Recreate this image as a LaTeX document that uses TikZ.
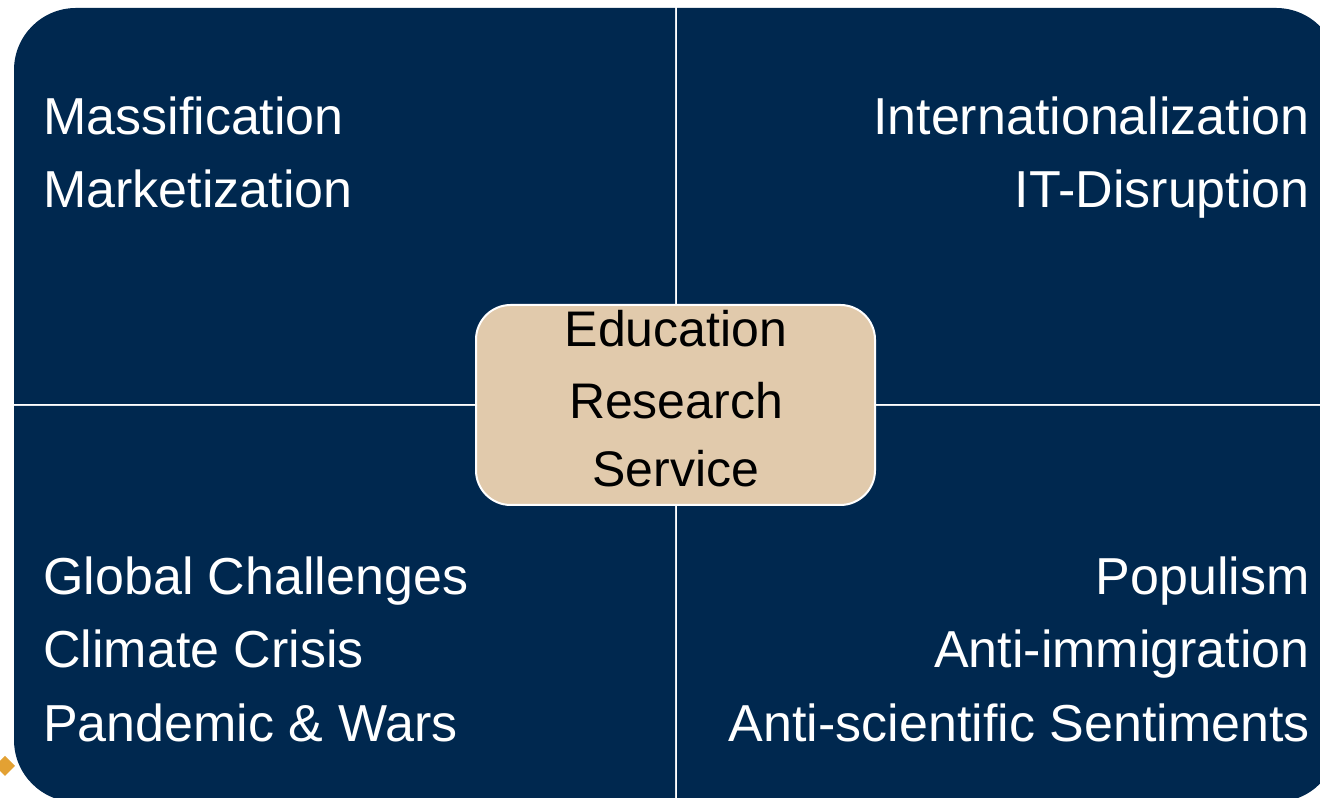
\documentclass[tikz,border=0pt]{standalone}
\usepackage{fontspec}
\setmainfont{Liberation Sans}
\definecolor{navy}{HTML}{00284F}
\definecolor{tan}{HTML}{E1CAAC}
\definecolor{gold}{HTML}{E3A133}
\begin{document}
\begin{tikzpicture}[x=0.75pt,y=0.75pt,
  quad/.style={fill=navy},
  outer/.style={text=white,font=\fontsize{39}{55}\selectfont,inner sep=0pt},
  core/.style={text=black,font=\fontsize{37.5}{50}\selectfont,inner sep=0pt}]
\useasboundingbox (0,0) rectangle (1320,798);
\begin{scope}
\clip (0,0) rectangle (1320,798);
% four quadrants, each rounded at its outer corner
\fill[quad] (675,394) -- (14,394) -- (14,728) arc[start angle=180,end angle=90,radius=62] -- (675,790) -- cycle;
\fill[quad] (677,394) -- (1338,394) -- (1338,728) arc[start angle=0,end angle=90,radius=62] -- (677,790) -- cycle;
\fill[quad] (675,392) -- (14,392) -- (14,58) arc[start angle=180,end angle=270,radius=62] -- (675,-4) -- cycle;
\fill[quad] (677,392) -- (1338,392) -- (1338,58) arc[start angle=0,end angle=-90,radius=62] -- (677,-4) -- cycle;
% bullet mark
\fill[gold] (5,42) -- (15,32) -- (5,22) -- (-5,32) -- cycle;
\end{scope}
% centre box
\node[draw=white,line width=1.5pt,fill=tan,rounded corners=26pt,minimum width=399*0.75pt,minimum height=200*0.75pt] (core) at (675.5,393) {};
\node[core,anchor=base] (edu) at (676,451) {Education};
\node[core,anchor=base] (res) at (676,379) {Research};
\node[core,anchor=base] (ser) at (676,311) {Service};
% top left
\node[outer,anchor=base west] (mas) at (43,663) {Massification};
\node[outer,anchor=base west] (mar) at (43,590) {Marketization};
% top right
\node[outer,anchor=base east] (int) at (1310,663) {Internationalization};
\node[outer,anchor=base east] (itd) at (1310,590) {IT-Disruption};
% bottom left
\node[outer,anchor=base west] (glo) at (43,203) {Global Challenges};
\node[outer,anchor=base west] (cli) at (43,130) {Climate Crisis};
\node[outer,anchor=base west] (pan) at (43,56) {Pandemic \& Wars};
% bottom right
\node[outer,anchor=base east] (pop) at (1310,203) {Populism};
\node[outer,anchor=base east] (ant) at (1310,130) {Anti-immigration};
\node[outer,anchor=base east] (sci) at (1310,56) {Anti-scientific Sentiments};
\end{tikzpicture}
\end{document}
